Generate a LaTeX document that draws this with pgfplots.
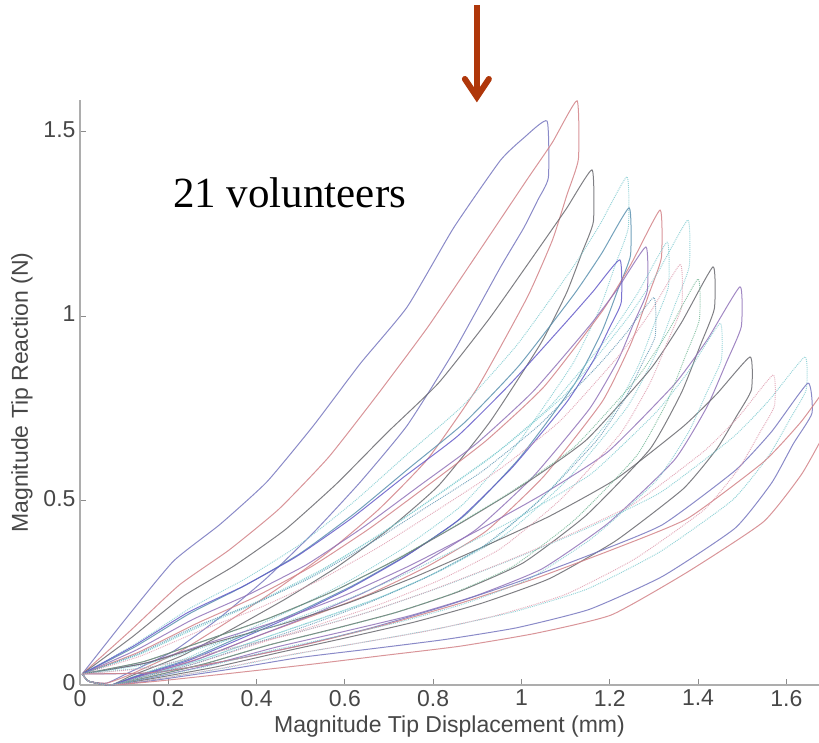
\documentclass[border=0pt]{standalone}
\usepackage{pgfplots}
\pgfplotsset{compat=1.18}
\usepackage{fontspec}
\setmainfont{Liberation Sans}
\newfontfamily\annfont{Liberation Serif}
\definecolor{cB}{RGB}{118,118,190}
\definecolor{cB2}{RGB}{100,90,200}
\definecolor{cR}{RGB}{210,130,135}
\definecolor{cG}{RGB}{105,105,110}
\definecolor{cC}{RGB}{120,200,205}
\definecolor{cT}{RGB}{90,145,175}
\definecolor{cP}{RGB}{145,115,185}
\definecolor{cGr}{RGB}{110,180,145}
\definecolor{cK}{RGB}{220,150,170}
\definecolor{arrowc}{RGB}{175,55,10}
\begin{document}
\begin{tikzpicture}
\path[use as bounding box] (-80pt,-57pt) rectangle (739pt,685pt);
\begin{axis}[
  at={(0,0)}, anchor=south west,
  width=739pt, height=585pt, scale only axis,
  xmin=0, xmax=1.674, ymin=0, ymax=1.585,
  axis x line=bottom, axis y line=left,
  axis line style={-, draw=black!32, line width=1.3pt},
  tick align=inside,
  major tick length=6pt,
  tick style={draw=black!45, line width=0.8pt},
  xtick={0,0.2,0.4,0.6,0.8,1,1.2,1.4,1.6},
  ytick={0,0.5,1,1.5},
  /pgf/number format/assume math mode=true,
  ticklabel style={font=\fontsize{23}{27}\selectfont, text=black!72},
  xticklabel style={yshift=-1.5pt},
  yticklabel style={yshift=2pt, xshift=-1pt},
  xlabel={Magnitude Tip Displacement (mm)},
  ylabel={Magnitude Tip Reaction (N)},
  label style={font=\fontsize{23}{27}\selectfont, text=black!72},
  xlabel style={at={(axis description cs:0.5,-0.0718)}, anchor=center},
  ylabel style={at={(axis description cs:-0.0785,0.5)}, anchor=center},
  clip=true,
  solidl/.style={line width=1.0pt, line join=round, smooth, tension=0.3, draw opacity=0.85},
  dotl/.style={line width=0.95pt, densely dotted, line join=round, smooth, tension=0.3, draw opacity=0.8},
]
% loop 1
\addplot[solidl, cB] coordinates {(0.005,0.03) (0.106,0.183) (0.212,0.336) (0.317,0.435) (0.423,0.550) (0.529,0.703) (0.635,0.871) (0.741,1.024) (0.846,1.238) (0.952,1.421) (1.005,1.482) (1.058,1.528) (1.061,1.375) (1.037,1.314) (1.005,1.238) (0.952,1.131) (0.846,0.902) (0.741,0.703) (0.635,0.550) (0.529,0.413) (0.423,0.290) (0.317,0.183) (0.212,0.092) (0.106,0.031) (0.06,0.005) (0.02,0.01) (0.005,0.03)};
% loop 2
\addplot[solidl, cR] coordinates {(0.005,0.03) (0.113,0.146) (0.225,0.271) (0.338,0.366) (0.450,0.476) (0.563,0.617) (0.676,0.79) (0.788,0.97) (0.901,1.17) (1.013,1.37) (1.070,1.47) (1.126,1.583) (1.129,1.425) (1.103,1.328) (1.070,1.205) (1.013,1.050) (0.901,0.807) (0.788,0.613) (0.676,0.475) (0.563,0.361) (0.450,0.263) (0.338,0.174) (0.225,0.090) (0.113,0.028) (0.06,0.005) (0.02,0.01) (0.005,0.03)};
% loop 3
\addplot[solidl, cG] coordinates {(0.005,0.03) (0.116,0.128) (0.232,0.239) (0.348,0.322) (0.464,0.420) (0.580,0.544) (0.696,0.684) (0.812,0.818) (0.928,0.994) (1.044,1.191) (1.102,1.291) (1.160,1.396) (1.163,1.256) (1.137,1.171) (1.102,1.062) (1.044,0.926) (0.928,0.712) (0.812,0.540) (0.696,0.419) (0.580,0.318) (0.464,0.232) (0.348,0.154) (0.232,0.080) (0.116,0.025) (0.07,0.0) (0.02,0.01) (0.005,0.03)};
% loop 4
\addplot[dotl, cC] coordinates {(0.005,0.03) (0.124,0.110) (0.248,0.207) (0.372,0.286) (0.496,0.379) (0.620,0.496) (0.743,0.627) (0.867,0.757) (0.991,0.923) (1.115,1.129) (1.177,1.246) (1.239,1.377) (1.242,1.239) (1.214,1.143) (1.177,1.019) (1.115,0.868) (0.991,0.654) (0.867,0.489) (0.743,0.379) (0.620,0.289) (0.496,0.213) (0.372,0.145) (0.248,0.076) (0.124,0.024) (0.07,0.0) (0.02,0.01) (0.005,0.03)};
% loop 5
\addplot[solidl, cT] coordinates {(0.005,0.03) (0.124,0.103) (0.249,0.194) (0.373,0.269) (0.498,0.356) (0.622,0.465) (0.746,0.588) (0.871,0.711) (0.995,0.866) (1.120,1.060) (1.182,1.170) (1.244,1.293) (1.247,1.164) (1.219,1.073) (1.182,0.957) (1.120,0.815) (0.995,0.614) (0.871,0.459) (0.746,0.356) (0.622,0.272) (0.498,0.200) (0.373,0.136) (0.249,0.071) (0.124,0.023) (0.07,0.0) (0.02,0.01) (0.005,0.03)};
% loop 6
\addplot[solidl, cR] coordinates {(0.005,0.03) (0.131,0.088) (0.263,0.166) (0.394,0.237) (0.526,0.322) (0.657,0.425) (0.788,0.541) (0.920,0.662) (1.051,0.808) (1.183,1.013) (1.248,1.140) (1.314,1.287) (1.317,1.158) (1.288,1.057) (1.248,0.925) (1.183,0.768) (1.051,0.566) (0.920,0.417) (0.788,0.322) (0.657,0.247) (0.526,0.187) (0.394,0.129) (0.263,0.069) (0.131,0.022) (0.07,0.0) (0.02,0.01) (0.005,0.03)};
% loop 7
\addplot[dotl, cC] coordinates {(0.005,0.03) (0.138,0.086) (0.275,0.163) (0.413,0.232) (0.551,0.315) (0.689,0.416) (0.826,0.529) (0.964,0.648) (1.102,0.791) (1.239,0.992) (1.308,1.116) (1.377,1.260) (1.380,1.134) (1.349,1.034) (1.308,0.906) (1.239,0.752) (1.102,0.554) (0.964,0.408) (0.826,0.315) (0.689,0.242) (0.551,0.183) (0.413,0.126) (0.275,0.068) (0.138,0.021) (0.07,0.0) (0.02,0.01) (0.005,0.03)};
% loop 8
\addplot[solidl, cP] coordinates {(0.005,0.03) (0.128,0.095) (0.256,0.178) (0.385,0.247) (0.513,0.326) (0.641,0.427) (0.769,0.540) (0.897,0.653) (1.026,0.795) (1.154,0.973) (1.218,1.074) (1.282,1.187) (1.285,1.068) (1.256,0.985) (1.218,0.878) (1.154,0.748) (1.026,0.564) (0.897,0.421) (0.769,0.326) (0.641,0.249) (0.513,0.184) (0.385,0.125) (0.256,0.065) (0.128,0.021) (0.07,0.0) (0.02,0.01) (0.005,0.03)};
% loop 9
\addplot[solidl, cB2] coordinates {(0.005,0.03) (0.122,0.106) (0.245,0.197) (0.367,0.266) (0.489,0.347) (0.612,0.449) (0.734,0.564) (0.856,0.675) (0.978,0.820) (1.101,0.983) (1.162,1.066) (1.223,1.152) (1.226,1.037) (1.199,0.967) (1.162,0.877) (1.101,0.764) (0.978,0.588) (0.856,0.446) (0.734,0.346) (0.612,0.263) (0.489,0.191) (0.367,0.127) (0.245,0.066) (0.122,0.021) (0.07,0.0) (0.02,0.01) (0.005,0.03)};
% loop 10
\addplot[solidl, cG] coordinates {(0.005,0.03) (0.143,0.063) (0.287,0.122) (0.430,0.182) (0.574,0.254) (0.717,0.340) (0.860,0.437) (1.004,0.542) (1.147,0.664) (1.291,0.854) (1.362,0.981) (1.434,1.133) (1.437,1.020) (1.405,0.920) (1.362,0.791) (1.291,0.639) (1.147,0.460) (1.004,0.331) (0.860,0.254) (0.717,0.197) (0.574,0.152) (0.430,0.109) (0.287,0.059) (0.143,0.018) (0.07,0.0) (0.02,0.01) (0.005,0.03)};
% loop 11
\addplot[solidl, cP] coordinates {(0.005,0.03) (0.150,0.060) (0.299,0.117) (0.449,0.174) (0.598,0.242) (0.748,0.324) (0.897,0.416) (1.047,0.516) (1.196,0.632) (1.346,0.814) (1.420,0.934) (1.495,1.079) (1.498,0.971) (1.465,0.876) (1.420,0.753) (1.346,0.609) (1.196,0.438) (1.047,0.315) (0.897,0.242) (0.748,0.188) (0.598,0.145) (0.449,0.104) (0.299,0.056) (0.150,0.017) (0.07,0.0) (0.02,0.01) (0.005,0.03)};
% loop 12
\addplot[solidl, cG] coordinates {(0.005,0.03) (0.152,0.060) (0.304,0.115) (0.455,0.164) (0.607,0.222) (0.759,0.293) (0.911,0.373) (1.063,0.457) (1.214,0.558) (1.366,0.700) (1.442,0.788) (1.518,0.889) (1.521,0.800) (1.488,0.730) (1.442,0.639) (1.366,0.531) (1.214,0.391) (1.063,0.288) (0.911,0.222) (0.759,0.171) (0.607,0.129) (0.455,0.089) (0.304,0.048) (0.152,0.015) (0.07,0.0) (0.02,0.01) (0.005,0.03)};
% loop 13
\addplot[dotl, cC] coordinates {(0.005,0.03) (0.164,0.050) (0.328,0.096) (0.493,0.143) (0.657,0.199) (0.821,0.267) (0.985,0.343) (1.149,0.425) (1.314,0.521) (1.478,0.670) (1.560,0.770) (1.642,0.889) (1.645,0.800) (1.609,0.722) (1.560,0.621) (1.478,0.501) (1.314,0.361) (1.149,0.260) (0.985,0.199) (0.821,0.155) (0.657,0.119) (0.493,0.085) (0.328,0.046) (0.164,0.014) (0.07,0.0) (0.02,0.01) (0.005,0.03)};
% loop 14
\addplot[solidl, cB] coordinates {(0.005,0.03) (0.165,0.033) (0.330,0.065) (0.495,0.106) (0.660,0.155) (0.825,0.213) (0.989,0.278) (1.154,0.352) (1.319,0.434) (1.484,0.581) (1.567,0.687) (1.649,0.818) (1.658,0.736) (1.616,0.654) (1.567,0.548) (1.484,0.425) (1.319,0.294) (1.154,0.205) (0.989,0.155) (0.825,0.123) (0.660,0.098) (0.495,0.074) (0.330,0.041) (0.165,0.012) (0.07,0.0) (0.02,0.01) (0.005,0.03)};
% loop 15
\addplot[solidl, cR] coordinates {(0.005,0.03) (0.172,0.034) (0.344,0.068) (0.516,0.111) (0.688,0.162) (0.860,0.221) (1.032,0.289) (1.204,0.366) (1.376,0.451) (1.548,0.604) (1.634,0.714) (1.720,0.850) (1.725,0.765) (1.686,0.680) (1.634,0.570) (1.548,0.442) (1.376,0.306) (1.204,0.19) (1.032,0.14) (0.860,0.105) (0.688,0.08) (0.516,0.055) (0.344,0.032) (0.172,0.01) (0.07,0.0) (0.02,0.01) (0.005,0.03)};
% loop 16
\addplot[dotl, cC] coordinates {(0.005,0.03) (0.133,0.082) (0.266,0.155) (0.399,0.221) (0.532,0.300) (0.665,0.396) (0.798,0.504) (0.931,0.617) (1.064,0.754) (1.197,0.944) (1.264,1.063) (1.330,1.200) (1.333,1.080) (1.303,0.985) (1.264,0.863) (1.197,0.716) (1.064,0.528) (0.931,0.389) (0.798,0.300) (0.665,0.230) (0.532,0.174) (0.399,0.120) (0.266,0.065) (0.133,0.020) (0.07,0.0) (0.02,0.01) (0.005,0.03)};
% loop 17
\addplot[dotl, cK] coordinates {(0.005,0.03) (0.136,0.078) (0.272,0.147) (0.408,0.210) (0.544,0.285) (0.680,0.376) (0.816,0.479) (0.952,0.586) (1.088,0.716) (1.224,0.897) (1.292,1.010) (1.360,1.140) (1.363,1.026) (1.333,0.936) (1.292,0.820) (1.224,0.681) (1.088,0.502) (0.952,0.369) (0.816,0.285) (0.680,0.219) (0.544,0.165) (0.408,0.114) (0.272,0.062) (0.136,0.019) (0.07,0.0) (0.02,0.01) (0.005,0.03)};
% loop 18
\addplot[dotl, cGr] coordinates {(0.005,0.03) (0.140,0.062) (0.280,0.119) (0.420,0.177) (0.560,0.246) (0.700,0.330) (0.840,0.425) (0.980,0.526) (1.120,0.645) (1.260,0.829) (1.330,0.953) (1.400,1.100) (1.403,0.990) (1.372,0.893) (1.330,0.768) (1.260,0.620) (1.120,0.447) (0.980,0.321) (0.840,0.246) (0.700,0.191) (0.560,0.147) (0.420,0.106) (0.280,0.057) (0.140,0.018) (0.07,0.0) (0.02,0.01) (0.005,0.03)};
% loop 19
\addplot[dotl, cT] coordinates {(0.005,0.03) (0.130,0.084) (0.260,0.158) (0.390,0.218) (0.520,0.289) (0.650,0.378) (0.780,0.478) (0.910,0.578) (1.040,0.704) (1.170,0.861) (1.235,0.950) (1.300,1.050) (1.303,0.945) (1.274,0.872) (1.235,0.777) (1.170,0.662) (1.040,0.499) (0.910,0.373) (0.780,0.289) (0.650,0.221) (0.520,0.163) (0.390,0.110) (0.260,0.058) (0.130,0.018) (0.07,0.0) (0.02,0.01) (0.005,0.03)};
% loop 20
\addplot[dotl, cC] coordinates {(0.005,0.03) (0.145,0.055) (0.290,0.106) (0.435,0.158) (0.580,0.220) (0.725,0.294) (0.870,0.378) (1.015,0.468) (1.160,0.574) (1.305,0.739) (1.378,0.849) (1.450,0.980) (1.453,0.882) (1.421,0.796) (1.378,0.684) (1.305,0.553) (1.160,0.398) (1.015,0.286) (0.870,0.220) (0.725,0.171) (0.580,0.131) (0.435,0.094) (0.290,0.051) (0.145,0.016) (0.07,0.0) (0.02,0.01) (0.005,0.03)};
% loop 21
\addplot[dotl, cK] coordinates {(0.005,0.03) (0.157,0.047) (0.314,0.091) (0.471,0.135) (0.628,0.188) (0.785,0.252) (0.942,0.324) (1.099,0.402) (1.256,0.492) (1.413,0.633) (1.492,0.727) (1.570,0.840) (1.573,0.756) (1.539,0.682) (1.492,0.586) (1.413,0.474) (1.256,0.341) (1.099,0.245) (0.942,0.188) (0.785,0.146) (0.628,0.113) (0.471,0.081) (0.314,0.044) (0.157,0.013) (0.07,0.0) (0.02,0.01) (0.005,0.03)};
\node[anchor=base west, font=\annfont\fontsize{43}{50}\selectfont, inner sep=0pt] at (axis cs:0.2106,1.293) {21 volunteers};
\coordinate (arrtip) at (axis cs:0.899,1.585);
\end{axis}
\draw[arrowc, line width=6pt] ([yshift=4pt]arrtip) -- ([yshift=95pt]arrtip);
\draw[arrowc, line width=6pt, line cap=round, line join=miter] ([shift={(-12pt,21pt)}]arrtip) -- ([yshift=3pt]arrtip) -- ([shift={(12pt,21pt)}]arrtip);
\end{tikzpicture}
\end{document}
